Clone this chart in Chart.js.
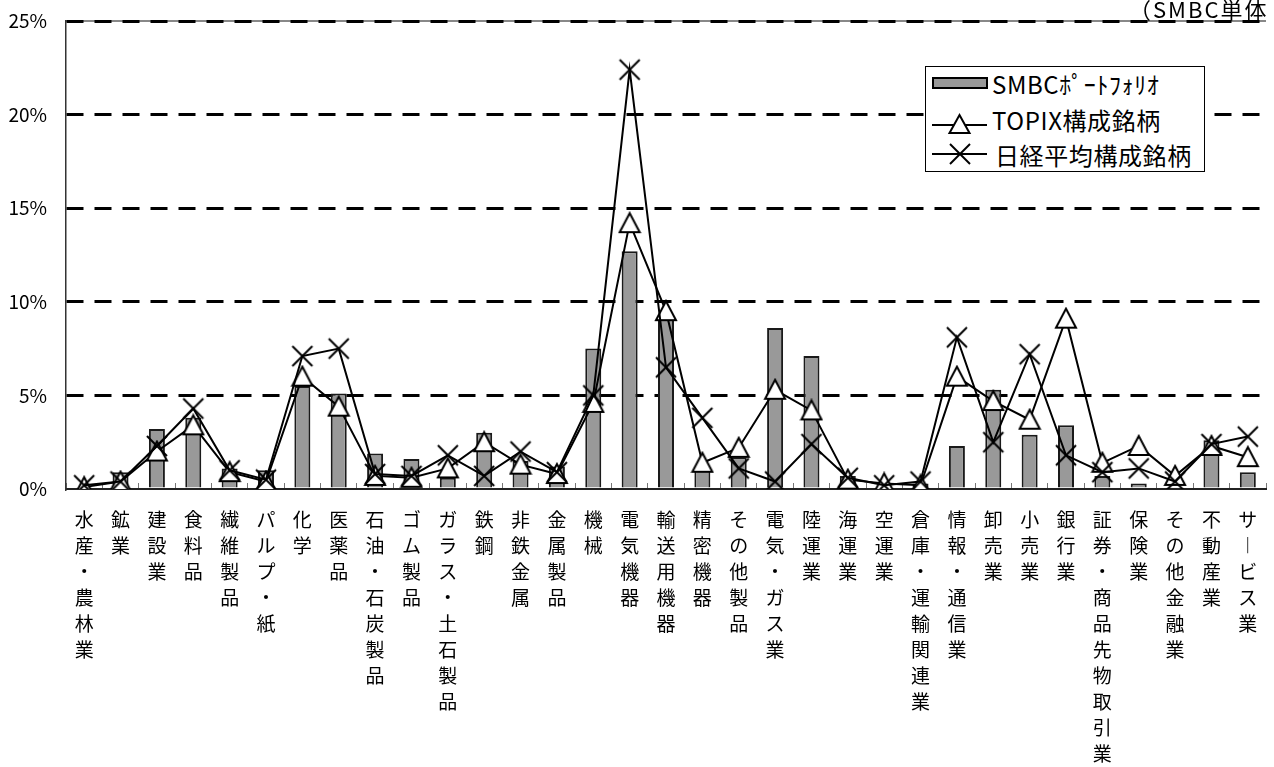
<!DOCTYPE html>
<html><head><meta charset="utf-8">
<script src="https://cdn.jsdelivr.net/npm/chart.js@4.4.1/dist/chart.umd.min.js"></script>
<style>
html,body{margin:0;padding:0;overflow:hidden;background:#fff;width:1274px;height:767px;}
#wrap{position:absolute;left:0;top:0;width:1280px;height:767px;}
#note{position:absolute;left:1129px;top:-3px;font-family:"Noto Sans CJK JP";font-size:22px;letter-spacing:2px;line-height:22px;white-space:nowrap;color:#000;}
#legend{position:absolute;left:925px;top:66px;width:280px;height:106px;border:1.5px solid #000;background:#fff;box-sizing:border-box;}
#legend svg{position:absolute;left:0;top:0;}
.lt{position:absolute;font-family:"Noto Sans CJK JP";font-size:24px;letter-spacing:0.6px;white-space:nowrap;line-height:30px;height:30px;color:#000;}
</style></head>
<body>
<div id="wrap"><canvas id="c" width="1280" height="767"></canvas></div>
<div id="note">（SMBC単体</div>
<div id="legend">
<svg width="278" height="104" viewBox="0 0 278 104">
<rect x="7" y="11" width="54" height="10" fill="#999" stroke="#000" stroke-width="2"/>
<line x1="6" y1="58" x2="61" y2="58" stroke="#000" stroke-width="2"/>
<polygon points="33.5,48 43.5,66 23.5,66" fill="#fff" stroke="#000" stroke-width="2"/>
<line x1="6" y1="87" x2="61" y2="87" stroke="#000" stroke-width="2"/>
<line x1="24" y1="77" x2="44" y2="97" stroke="#000" stroke-width="2"/>
<line x1="44" y1="77" x2="24" y2="97" stroke="#000" stroke-width="2"/>
</svg>
<div class="lt" style="left:66px;top:2px;">SMBCﾎﾟｰﾄﾌｫﾘｵ</div>
<div class="lt" style="left:66px;top:38px;">TOPIX構成銘柄</div>
<div class="lt" style="left:69px;top:73px;">日経平均構成銘柄</div>
</div>
<script>
const categories = ["水産・農林業","鉱業","建設業","食料品","繊維製品","パルプ・紙","化学","医薬品","石油・石炭製品","ゴム製品","ガラス・土石製品","鉄鋼","非鉄金属","金属製品","機械","電気機器","輸送用機器","精密機器","その他製品","電気・ガス業","陸運業","海運業","空運業","倉庫・運輸関連業","情報・通信業","卸売業","小売業","銀行業","証券・商品先物取引業","保険業","その他金融業","不動産業","サービス業"];
const smbcPortfolio = [0.1,0.9,3.2,3.8,1.1,1.0,5.5,5.1,1.9,1.6,0.6,3.0,1.5,1.2,7.5,12.7,9.2,1.2,1.7,8.6,7.1,0.7,0.1,0.3,2.3,5.3,2.9,3.4,0.7,0.3,0.1,2.6,0.9];
const topixWeights = [0.1,0.4,2.0,3.4,0.9,0.4,6.0,4.4,0.7,0.6,1.1,2.5,1.3,0.8,4.6,14.2,9.5,1.4,2.2,5.3,4.2,0.5,0.3,0.2,6.0,4.7,3.7,9.1,1.4,2.3,0.7,2.3,1.7];
const nikkeiWeights = [0.2,0.4,2.3,4.3,1.0,0.5,7.1,7.5,0.8,0.7,1.8,0.7,2.0,0.9,5.0,22.4,6.5,3.8,1.1,0.4,2.4,0.6,0.2,0.4,8.1,2.5,7.2,1.8,0.9,1.1,0.4,2.4,2.8];
const seriesNames = ["SMBCﾎﾟｰﾄﾌｫﾘｵ","TOPIX構成銘柄","日経平均構成銘柄"];
const yTickValues = [0,5,10,15,20,25];

const FONT = '"Noto Sans CJK JP", "Noto Sans", sans-serif';

function verticalLabel(s){ return Array.from(s.replace(/ー/g,'︱')); }

function makeTriangle(){
  const c=document.createElement('canvas'); c.width=24; c.height=24;
  const g=c.getContext('2d');
  g.beginPath(); g.moveTo(12,2); g.lineTo(22,21); g.lineTo(2,21); g.closePath();
  g.fillStyle='#fff'; g.fill(); g.lineWidth=2; g.strokeStyle='#000'; g.stroke();
  return c;
}
function makeCross(){
  const c=document.createElement('canvas'); c.width=24; c.height=24;
  const g=c.getContext('2d');
  g.lineWidth=2; g.strokeStyle='#000';
  g.beginPath(); g.moveTo(2,2); g.lineTo(22,22); g.moveTo(22,2); g.lineTo(2,22); g.stroke();
  return c;
}

const topBorder = {
  id:'topBorder',
  beforeDraw(chart){
    const {ctx, chartArea:a} = chart;
    ctx.save(); ctx.strokeStyle='#888'; ctx.lineWidth=2;
    ctx.beginPath(); ctx.moveTo(a.left, a.top); ctx.lineTo(a.right, a.top); ctx.stroke();
    ctx.restore();
  }
};

new Chart(document.getElementById('c'), {
  data: {
    labels: categories,
    datasets: [
      {type:'bar', label:seriesNames[0], data:smbcPortfolio, backgroundColor:'#999999', borderColor:'#1a1a1a', borderWidth:2, barPercentage:0.44, categoryPercentage:1, order:3},
      {type:'line', label:seriesNames[1], data:topixWeights, borderColor:'#000', borderWidth:2, tension:0, fill:false, pointStyle:makeTriangle(), pointRadius:12, order:2},
      {type:'line', label:seriesNames[2], data:nikkeiWeights, borderColor:'#000', borderWidth:2, tension:0, fill:false, pointStyle:makeCross(), pointRadius:12, order:1}
    ]
  },
  options: {
    responsive:false, devicePixelRatio:1, animation:false,
    layout:{padding:{top:21,left:0,right:0,bottom:0}},
    plugins:{legend:{display:false}, tooltip:{enabled:false}},
    scales:{
      x:{
        offset:true,
        grid:{display:true, offset:true, drawOnChartArea:false, drawTicks:true, tickLength:-6, tickColor:'#777', tickWidth:1},
        border:{display:true, color:'#222', width:2},
        ticks:{autoSkip:false, maxRotation:0, minRotation:0, padding:24, color:'#000',
          font:{family:FONT, size:19, lineHeight:'26px'},
          callback:(v,i)=>verticalLabel(categories[i])},
        afterFit(s){ s.height = 278; s.paddingLeft = 0; s.paddingRight = 0; }
      },
      y:{
        min:0, max:25,
        afterBuildTicks(s){ s.ticks = yTickValues.map(v=>({value:v})); },
        ticks:{padding:19, color:'#000', font:{family:FONT, size:19}, callback:v=>v+'%'},
        grid:{drawTicks:false, lineWidth:3, color:(ctx)=> (ctx.tick && ctx.tick.value===0) ? 'rgba(0,0,0,0)' : '#000'},
        border:{display:true, color:'#333', width:1.5, dash:[17,11]},
        afterFit(s){ s.width = 66; s.paddingTop = 0; s.paddingBottom = 0; }
      }
    }
  },
  plugins:[topBorder]
});
</script>
</body></html>
